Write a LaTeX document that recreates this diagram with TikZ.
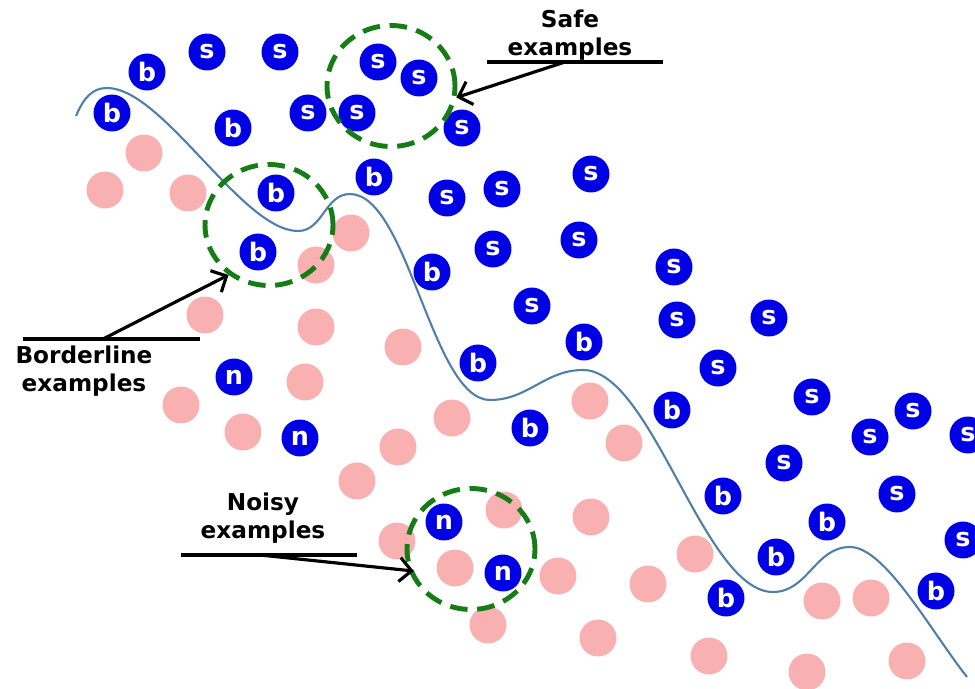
\documentclass[tikz,border=0pt]{standalone}
\usepackage{fontspec}
\setmainfont{DejaVu Sans}
\usetikzlibrary{arrows.meta,shapes.geometric}
\definecolor{dotblue}{RGB}{0,0,228}
\definecolor{dotpink}{RGB}{248,176,176}
\definecolor{ringgreen}{RGB}{22,125,22}
\definecolor{curveblue}{RGB}{80,128,168}
\tikzset{
% Two node styles for the examples: blue with a letter and plain pink
blue node/.style={circle,fill=dotblue,text=white,inner sep=0,minimum size=7.4mm,font=\bfseries\fontsize{14.5}{14.5}\selectfont},
pink node/.style={circle,fill=dotpink,inner sep=0,minimum size=7.4mm},
% dashed ring round a group and the text that names it
ring node/.style={ellipse,draw=ringgreen,line width=2.8pt,dash pattern=on 10pt off 5.5pt,inner sep=0,minimum width=2.56cm,minimum height=2.42cm},
label node/.style={align=center,font=\bfseries\fontsize{13.2}{15.5}\selectfont},
pointer/.style={line width=1.8pt,-{Straight Barb[length=2.4mm,width=4.8mm]}},
underline/.style={line width=2.2pt}
}

\begin{document}
\begin{tikzpicture}[x=0.02cm,y=-0.02cm]
\useasboundingbox (0,0) rectangle (975,689);
% The border between the two classes
\draw[curveblue,line width=1.2pt] (76,116) .. controls (84,97) and (93,88) .. (107,88)
.. controls (163,88) and (242,231) .. (298,231)
.. controls (323,231) and (325,194) .. (350,194)
.. controls (408,194) and (432,400) .. (490,400)
.. controls (528,400) and (545,370) .. (583,370)
.. controls (652,370) and (704,592) .. (773,592)
.. controls (808,592) and (815,547) .. (850,547)
.. controls (885,547) and (930,630) .. (967,677);
% pink examples
\node(p1)[pink node]at(144,153){};
\node(p2)[pink node]at(105,190){};
\node(p3)[pink node]at(188,193){};
\node(p4)[pink node]at(351,233){};
\node(p5)[pink node]at(316,265){};
\node(p6)[pink node]at(205,315){};
\node(p7)[pink node]at(316,327){};
\node(p8)[pink node]at(403,347){};
\node(p9)[pink node]at(305,382){};
\node(p10)[pink node]at(181,405){};
\node(p11)[pink node]at(243,432){};
\node(p12)[pink node]at(452,418){};
\node(p13)[pink node]at(398,447){};
\node(p14)[pink node]at(357,481){};
\node(p15)[pink node]at(590,401){};
\node(p16)[pink node]at(624,443){};
\node(p17)[pink node]at(504,510){};
\node(p18)[pink node]at(591,517){};
\node(p19)[pink node]at(397,541){};
\node(p20)[pink node]at(455,568){};
\node(p21)[pink node]at(558,576){};
\node(p22)[pink node]at(695,554){};
\node(p23)[pink node]at(648,584){};
\node(p24)[pink node]at(488,625){};
\node(p25)[pink node]at(598,638){};
\node(p26)[pink node]at(709,656){};
\node(p27)[pink node]at(807,672){};
\node(p28)[pink node]at(907,661){};
\node(p29)[pink node]at(822,601){};
\node(p30)[pink node]at(871,598){};
% safe examples
\node(s1)[blue node]at(207,52){s};
\node(s2)[blue node]at(280,52){s};
\node(s3)[blue node]at(378,62){s};
\node(s4)[blue node]at(419,78){s};
\node(s5)[blue node]at(308,113){s};
\node(s6)[blue node]at(357,113){s};
\node(s7)[blue node]at(462,128){s};
\node(s8)[blue node]at(447,198){s};
\node(s9)[blue node]at(502,189){s};
\node(s10)[blue node]at(591,174){s};
\node(s11)[blue node]at(493,249){s};
\node(s12)[blue node]at(579,240){s};
\node(s13)[blue node]at(674,267){s};
\node(s14)[blue node]at(532,306){s};
\node(s15)[blue node]at(677,320){s};
\node(s16)[blue node]at(769,318){s};
\node(s17)[blue node]at(718,368){s};
\node(s18)[blue node]at(812,397){s};
\node(s19)[blue node]at(913,411){s};
\node(s20)[blue node]at(870,437){s};
\node(s21)[blue node]at(968,435){s};
\node(s22)[blue node]at(784,463){s};
\node(s23)[blue node]at(897,494){s};
\node(s24)[blue node]at(963,540){s};
% borderline examples
\node(b1)[blue node]at(147,72){b};
\node(b2)[blue node]at(112,113){b};
\node(b3)[blue node]at(233,128){b};
\node(b4)[blue node]at(374,177){b};
\node(b5)[blue node]at(276,193){b};
\node(b6)[blue node]at(258,252){b};
\node(b7)[blue node]at(432,272){b};
\node(b8)[blue node]at(584,342){b};
\node(b9)[blue node]at(478,363){b};
\node(b10)[blue node]at(672,410){b};
\node(b11)[blue node]at(530,428){b};
\node(b12)[blue node]at(723,496){b};
\node(b13)[blue node]at(827,522){b};
\node(b14)[blue node]at(776,557){b};
\node(b15)[blue node]at(726,598){b};
\node(b16)[blue node]at(936,591){b};
% noisy examples
\node(n1)[blue node]at(234,377){n};
\node(n2)[blue node]at(300,438){n};
\node(n3)[blue node]at(444,522){n};
\node(n4)[blue node]at(503,573){n};
% rings
\node(safe)[ring node]at(391,86){};
\node(border)[ring node]at(269,225){};
\node(noisy)[ring node]at(471,549){};
% texts and their pointers
\node(safe text)[label node]at(570,35){Safe\\examples};
\node(border text)[label node]at(84,371){Borderline\\examples};
\node(noisy text)[label node]at(263,518){Noisy\\examples};
\coordinate(safe l)at(487,62);
\coordinate(safe r)at(663,62);
\coordinate(safe from)at(565,62);
\coordinate(border l)at(23,339);
\coordinate(border r)at(200,339);
\coordinate(border from)at(103,339);
\coordinate(noisy l)at(181,555);
\coordinate(noisy r)at(357,555);
\coordinate(noisy from)at(260,555);
\draw[underline](safe l)--(safe r);
\draw[underline](border l)--(border r);
\draw[underline](noisy l)--(noisy r);
\draw[pointer](safe from)--(safe.-10);
\draw[pointer](border from)--(border.-129);
\draw[pointer,shorten >=-3pt](noisy from)--(noisy.-161);
\end{tikzpicture}
\end{document}
